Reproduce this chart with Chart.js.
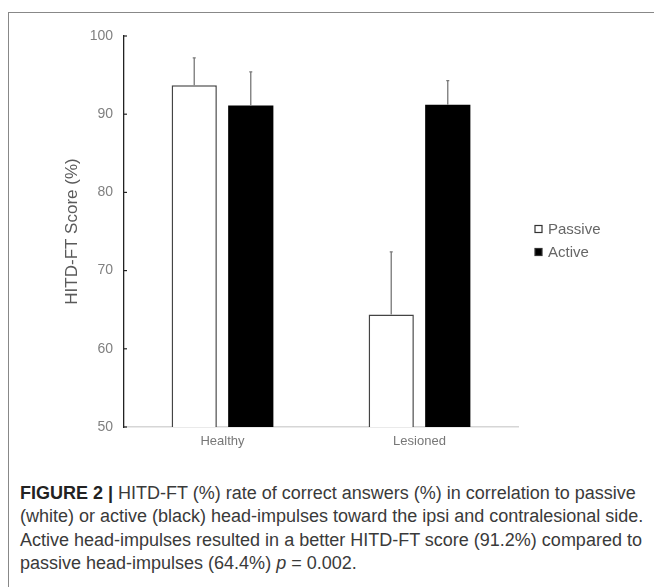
<!DOCTYPE html>
<html>
<head>
<meta charset="utf-8">
<script src="https://cdn.jsdelivr.net/npm/chart.js@4/dist/chart.umd.min.js"></script>
<style>
  html, body { margin: 0; padding: 0; background: #fff; }
  #frame {
    position: absolute; left: 8px; top: 12px; width: 646px; height: 575px;
    border-top: 1.5px solid #888; border-left: 1.5px solid #888;
  }
  #wrap { position: absolute; left: 0; top: 0; width: 654px; height: 470px; }
  #caption {
    position: absolute; left: 20px; top: 482px;
    font-family: "Liberation Sans", Arial, sans-serif; font-size: 18px;
    line-height: 23.3px; color: #3a3a3a; white-space: nowrap;
  }
  #caption b { color: #222; }
</style>
</head>
<body>
<div id="frame"></div>
<div id="wrap"><canvas id="chart" width="654" height="470"></canvas></div>
<div id="caption">
  <b>FIGURE 2 |</b> HITD-FT (%) rate of correct answers (%) in correlation to passive<br>
  (white) or active (black) head-impulses toward the ipsi and contralesional side.<br>
  Active head-impulses resulted in a better HITD-FT score (91.2%) compared to<br>
  passive head-impulses (64.4%) <i>p</i> = 0.002.
</div>
<script>
// valores
const categories = ['Healthy', 'Lesioned'];
const passiveValues = [93.7, 64.4];
const activeValues = [91.1, 91.2];
const passiveErr = [3.5, 8.0];
const activeErr = [4.3, 3.1];
const yTicks = [50, 60, 70, 80, 90, 100];

/**
 * Barras de erro (só para cima) + marcas do eixo y voltadas para dentro
 */
const errorBarsPlugin = {
  id: 'errorBars',
  afterDatasetsDraw(chart) {
    const ctx = chart.ctx;
    const y = chart.scales.y;
    ctx.save();
    chart.data.datasets.forEach((ds, di) => {
      const meta = chart.getDatasetMeta(di);
      meta.data.forEach((bar, i) => {
        const top = y.getPixelForValue(ds.data[i] + ds.errors[i]);
        ctx.strokeStyle = '#777';
        ctx.lineWidth = 1.3;
        ctx.beginPath();
        ctx.moveTo(bar.x, bar.y);
        ctx.lineTo(bar.x, top);
        ctx.moveTo(bar.x - 1.5, top);
        ctx.lineTo(bar.x + 1.5, top);
        ctx.stroke();
      });
    });
    // marcas do eixo
    ctx.strokeStyle = '#222';
    ctx.lineWidth = 1.2;
    yTicks.forEach(v => {
      const py = y.getPixelForValue(v);
      ctx.beginPath();
      ctx.moveTo(y.right, py);
      ctx.lineTo(y.right + 3, py);
      ctx.stroke();
    });
    ctx.restore();
  }
};

/**
 * Legenda desenhada à mão
 */
const legendPlugin = {
  id: 'sideLegend',
  afterDraw(chart) {
    const ctx = chart.ctx;
    ctx.save();
    ctx.font = '15px "Liberation Sans", Arial, sans-serif';
    ctx.textBaseline = 'middle';
    chart.data.datasets.forEach((ds, i) => {
      const ly = 229 + i * 23;
      ctx.fillStyle = ds.backgroundColor;
      ctx.fillRect(535, ly - 3.5, 7, 7);
      ctx.strokeStyle = '#333';
      ctx.lineWidth = 1.2;
      ctx.strokeRect(535, ly - 3.5, 7, 7);
      ctx.fillStyle = '#666';
      ctx.fillText(ds.label, 548, ly + 0.5);
    });
    ctx.restore();
  }
};

new Chart(document.getElementById('chart'), {
  type: 'bar',
  data: {
    labels: categories,
    datasets: [
      {
        label: 'Passive',
        data: passiveValues,
        errors: passiveErr,
        backgroundColor: '#ffffff',
        borderColor: '#444',
        borderWidth: { top: 1.5, left: 1.5, right: 1.5, bottom: 0 },
        borderSkipped: false
      },
      {
        label: 'Active',
        data: activeValues,
        errors: activeErr,
        backgroundColor: '#000000',
        borderWidth: 0
      }
    ]
  },
  options: {
    responsive: false,
    animation: false,
    devicePixelRatio: 1,
    categoryPercentage: 0.574,
    barPercentage: 0.8,
    layout: { padding: { left: 58, top: 36, right: 136, bottom: 0 } },
    plugins: {
      legend: { display: false },
      tooltip: { enabled: false }
    },
    scales: {
      x: {
        grid: { display: false, drawTicks: false },
        border: { display: true, color: '#d6d6d6', width: 1.5 },
        ticks: {
          color: '#777',
          padding: 7,
          font: { family: '"Liberation Sans", Arial, sans-serif', size: 13 }
        },
        afterFit(scale) { scale.height = 43; }
      },
      y: {
        min: 50,
        max: 100,
        grid: { display: false, drawTicks: false },
        border: { display: true, color: '#222', width: 1.3 },
        ticks: {
          stepSize: 10,
          color: '#808080',
          padding: 11,
          font: { family: '"Liberation Sans", Arial, sans-serif', size: 14 }
        },
        title: {
          display: true,
          text: 'HITD-FT Score (%)',
          color: '#5a5a5a',
          padding: { top: 4, bottom: 0 },
          font: { family: '"Liberation Sans", Arial, sans-serif', size: 17 }
        },
        afterFit(scale) { scale.width = 66; }
      }
    }
  },
  plugins: [errorBarsPlugin, legendPlugin]
});
</script>
</body>
</html>
